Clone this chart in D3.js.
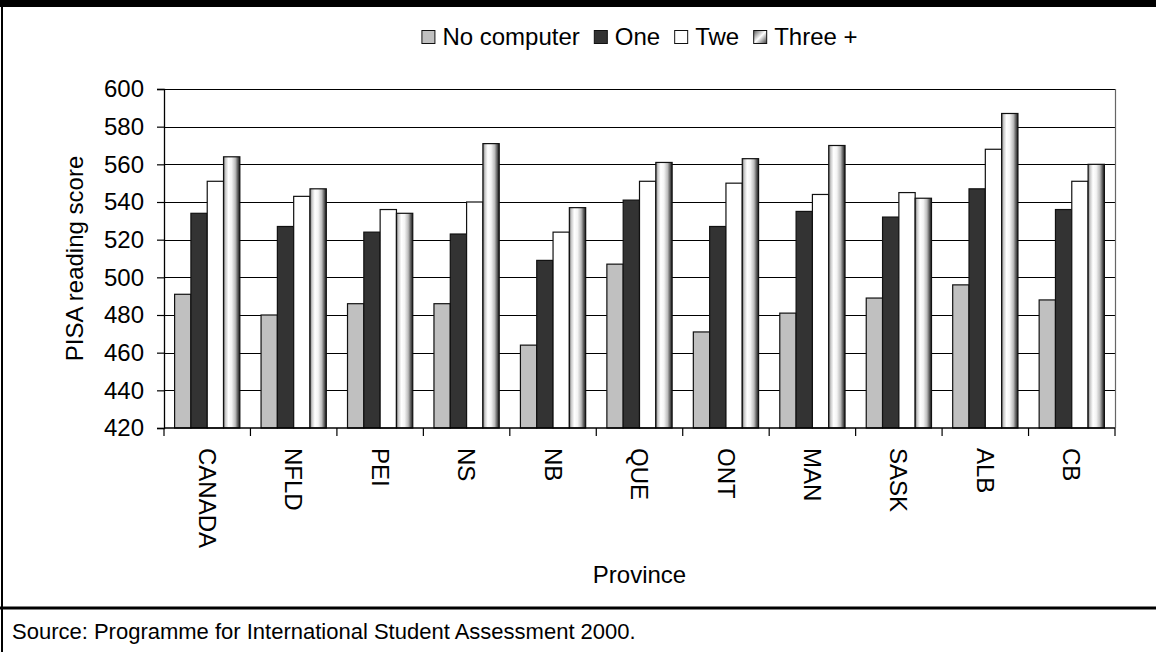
<!DOCTYPE html>
<html>
<head>
<meta charset="utf-8">
<script src="https://cdn.jsdelivr.net/npm/d3@7"></script>
<style>
  html, body { margin: 0; padding: 0; background: #fff; }
  svg { display: block; }
  text { font-family: "Liberation Sans", Arial, sans-serif; fill: #000; }
</style>
</head>
<body>
<svg id="chart" width="1156" height="652"></svg>
<script>
// PISA 2000 reading scores by province and number of home computers
const provinces = ["CANADA", "NFLD", "PEI", "NS", "NB", "QUE", "ONT", "MAN", "SASK", "ALB", "CB"];
const seriesNames = ["No computer", "One", "Twe", "Three +"];
const noComputer = [491, 480, 486, 486, 464, 507, 471, 481, 489, 496, 488];
const oneComputer = [534, 527, 524, 523, 509, 541, 527, 535, 532, 547, 536];
const twoComputers = [551, 543, 536, 540, 524, 551, 550, 544, 545, 568, 551];
const threePlus = [564, 547, 534, 571, 537, 561, 563, 570, 542, 587, 560];
const yTicks = [420, 440, 460, 480, 500, 520, 540, 560, 580, 600];
const sourceNote = "Source: Programme for International Student Assessment 2000.";

const seriesValues = [noComputer, oneComputer, twoComputers, threePlus];

const W = 1156, H = 652;
const plot = { left: 164, right: 1115, top: 89, bottom: 428 };
const fontSize = 24;

const svg = d3.select("#chart");

// Gradients for the "Three +" series
const defs = svg.append("defs");
const cyl = defs.append("linearGradient").attr("id", "cyl")
  .attr("x1", "0%").attr("x2", "100%").attr("y1", "0%").attr("y2", "0%");
[[0, "#6a6a6a"], [0.12, "#c8c8c8"], [0.3, "#ffffff"], [0.5, "#f4f4f4"],
 [0.72, "#bdbdbd"], [0.88, "#5a5a5a"], [1, "#1a1a1a"]]
  .forEach(([o, c]) => cyl.append("stop").attr("offset", o).attr("stop-color", c));
const diag = defs.append("linearGradient").attr("id", "diag")
  .attr("x1", "0%").attr("y1", "0%").attr("x2", "100%").attr("y2", "100%");
[[0, "#5a5a5a"], [0.5, "#ffffff"], [1, "#3a3a3a"]]
  .forEach(([o, c]) => diag.append("stop").attr("offset", o).attr("stop-color", c));

const fills = ["#c0c0c0", "#333333", "#ffffff", "url(#cyl)"];
const keyFills = ["#c0c0c0", "#333333", "#ffffff", "url(#diag)"];

// Outer frame
svg.append("rect").attr("x", 0).attr("y", 0).attr("width", W).attr("height", 7).attr("fill", "#000");
svg.append("line").attr("x1", 2).attr("x2", 2).attr("y1", 0).attr("y2", H)
  .attr("stroke", "#000").attr("stroke-width", 2);
svg.append("line").attr("x1", 0).attr("x2", W).attr("y1", 608).attr("y2", 608)
  .attr("stroke", "#000").attr("stroke-width", 3);

// Scales
const y = d3.scaleLinear().domain([420, 600]).range([plot.bottom, plot.top]);
const x = d3.scaleBand().domain(provinces).range([plot.left, plot.right]).padding(0);
const gapRatio = 1.3;
const barW = x.bandwidth() / (seriesNames.length + gapRatio);
const xs = d3.scaleBand().domain(seriesNames)
  .range([barW * gapRatio / 2, x.bandwidth() - barW * gapRatio / 2]).padding(0);

// Gridlines
svg.append("g")
  .selectAll("line").data(yTicks.slice(1)).join("line")
  .attr("x1", plot.left).attr("x2", plot.right)
  .attr("y1", d => Math.round(y(d)) + 0.5).attr("y2", d => Math.round(y(d)) + 0.5)
  .attr("stroke", "#000").attr("stroke-width", 1.2);

// Plot area right border
svg.append("line").attr("x1", plot.right + 0.5).attr("x2", plot.right + 0.5)
  .attr("y1", plot.top).attr("y2", plot.bottom)
  .attr("stroke", "#666").attr("stroke-width", 1.2);

// Bars
const rows = provinces.map((p, i) => ({ p, vals: seriesNames.map((s, k) => ({ s, k, v: seriesValues[k][i] })) }));
const groups = svg.append("g").selectAll("g").data(rows).join("g")
  .attr("transform", d => `translate(${x(d.p)},0)`);
groups.selectAll("rect").data(d => d.vals).join("rect")
  .attr("x", d => xs(d.s))
  .attr("width", xs.bandwidth())
  .attr("y", d => y(d.v))
  .attr("height", d => y(420) - y(d.v))
  .attr("fill", d => fills[d.k])
  .attr("stroke", "#111")
  .attr("stroke-width", 1.2);

// Y axis
const yAxis = d3.axisLeft(y).tickValues(yTicks).tickSize(7).tickPadding(13).tickFormat(d3.format("d"));
const gy = svg.append("g").attr("transform", `translate(${plot.left},0)`).call(yAxis);
gy.select(".domain").attr("stroke", "#000").attr("stroke-width", 1.3);
gy.selectAll(".tick line").attr("stroke", "#000").attr("stroke-width", 1.2);
gy.selectAll(".tick text").attr("font-size", fontSize).attr("font-family", "Liberation Sans, Arial, sans-serif").attr("fill", "#000");

// X axis: ticks at category boundaries
const gx = svg.append("g").attr("transform", `translate(0,${plot.bottom})`);
gx.append("line").attr("x1", plot.left).attr("x2", plot.right).attr("y1", 0).attr("y2", 0)
  .attr("stroke", "#000").attr("stroke-width", 1.5);
const boundaries = provinces.map(p => x(p)).concat([plot.right]);
gx.selectAll("line.tk").data(boundaries).join("line").attr("class", "tk")
  .attr("x1", d => d).attr("x2", d => d).attr("y1", 0).attr("y2", 8)
  .attr("stroke", "#000").attr("stroke-width", 1.2);
gx.selectAll("text").data(provinces).join("text")
  .attr("transform", d => `translate(${x(d) + x.bandwidth() / 2},20) rotate(90)`)
  .attr("dy", "0.35em")
  .attr("font-size", fontSize)
  .text(d => d);

// Axis titles
svg.append("text")
  .attr("transform", `translate(83,${(plot.top + plot.bottom) / 2}) rotate(-90)`)
  .attr("text-anchor", "middle").attr("font-size", fontSize)
  .text("PISA reading score");
svg.append("text")
  .attr("x", (plot.left + plot.right) / 2).attr("y", 583)
  .attr("text-anchor", "middle").attr("font-size", fontSize)
  .text("Province");

// Legend
const legend = svg.append("g");
const keySize = 13, keyGap = 8, itemGap = 14;
let cx = 0;
seriesNames.forEach((name, k) => {
  const it = legend.append("g").attr("transform", `translate(${cx},0)`);
  it.append("rect").attr("x", 0.5).attr("y", -keySize / 2).attr("width", keySize).attr("height", keySize)
    .attr("fill", keyFills[k]).attr("stroke", "#111").attr("stroke-width", 1);
  const t = it.append("text").attr("x", keySize + keyGap).attr("dy", "0.35em")
    .attr("font-size", fontSize).text(name);
  cx += keySize + keyGap + t.node().getComputedTextLength() + itemGap;
});
const legendW = cx - itemGap;
legend.attr("transform", `translate(${(plot.left + plot.right) / 2 - legendW / 2},37)`);

// Source note
svg.append("text").attr("x", 12).attr("y", 639).attr("font-size", 22).text(sourceNote);
</script>
</body>
</html>
